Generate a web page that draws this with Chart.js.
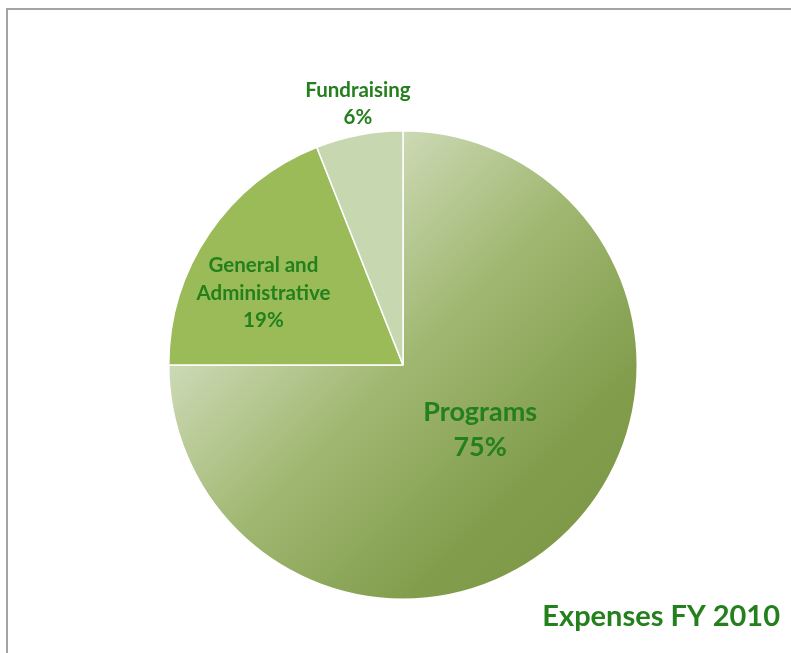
<!DOCTYPE html>
<html>
<head>
<meta charset="utf-8">
<script src="https://cdn.jsdelivr.net/npm/chart.js@4/dist/chart.umd.min.js"></script>
<style>
  html, body { margin: 0; padding: 0; background: #fff; overflow: hidden; }
  #wrap { position: relative; width: 791px; height: 653px; }
  #frame { position: absolute; left: 6px; top: 8px; width: 800px; height: 700px;
           border-top: 2px solid #a3a3a3; border-left: 2px solid #a3a3a3; }
  canvas { position: absolute; left: 0; top: 0; }
</style>
</head>
<body>
<div id="wrap">
  <div id="frame"></div>
  <canvas id="c" width="791" height="653"></canvas>
</div>
<script>
// データ
const categories = ["Programs", "General and Administrative", "Fundraising"];
const values = [75, 19, 6];
const labelLines = [["Programs", "75%"], ["General and", "Administrative", "19%"], ["Fundraising", "6%"]];
const chartTitle = "Expenses FY 2010";

const textGreen = "#23801c";
const font = "Lato, 'Open Sans', sans-serif";
const sliceColors = [null, "#9bbb59", "#c7d8b0"];

// ラベル配置（半径比、フォントサイズ、行高）
const labelStyle = [
  { r: 0.43, size: 27, lh: 35, ang: -5 },
  { r: 0.67, size: 20.5, lh: 27.5, ang: -7 },
  { r: 1.13, size: 20.5, lh: 27, ang: 1 }
];

const sliceLabels = {
  id: "sliceLabels",
  afterDatasetsDraw(chart) {
    const ctx = chart.ctx;
    const arcs = chart.getDatasetMeta(0).data;
    ctx.save();
    ctx.fillStyle = textGreen;
    ctx.textAlign = "center";
    ctx.textBaseline = "middle";
    arcs.forEach((arc, i) => {
      const st = labelStyle[i];
      const mid = (arc.startAngle + arc.endAngle) / 2 + st.ang * Math.PI / 180;
      const cx = arc.x + Math.cos(mid) * arc.outerRadius * st.r;
      const cy = arc.y + Math.sin(mid) * arc.outerRadius * st.r;
      const lines = labelLines[i];
      ctx.font = `bold ${st.size}px ${font}`;
      lines.forEach((t, k) => {
        ctx.fillText(t, cx, cy + (k - (lines.length - 1) / 2) * st.lh);
      });
    });
    // タイトル
    ctx.font = `bold 29px ${font}`;
    ctx.textAlign = "right";
    ctx.fillText(chartTitle, 780, 617);
    ctx.restore();
  }
};

function sliceFill(context) {
  const i = context.dataIndex;
  if (i !== 0) return sliceColors[i];
  const chart = context.chart;
  const a = chart.chartArea;
  if (!a) return "#9bbb59";
  // 左上→右下の斜めグラデーション
  const g = chart.ctx.createLinearGradient(a.left, a.top, a.right, a.bottom);
  g.addColorStop(0.2, "#d6e1c4");
  g.addColorStop(0.5, "#a0b771");
  g.addColorStop(0.75, "#829e4d");
  g.addColorStop(1, "#799543");
  return g;
}

new Chart(document.getElementById("c"), {
  type: "pie",
  data: {
    labels: categories,
    datasets: [{
      data: values,
      backgroundColor: sliceFill,
      borderColor: "#ffffff",
      borderWidth: 1.5
    }]
  },
  options: {
    responsive: false,
    animation: false,
    layout: { padding: { left: 167, right: 152, top: 130, bottom: 53 } },
    plugins: {
      legend: { display: false },
      tooltip: { enabled: false }
    }
  },
  plugins: [sliceLabels]
});
</script>
</body>
</html>
